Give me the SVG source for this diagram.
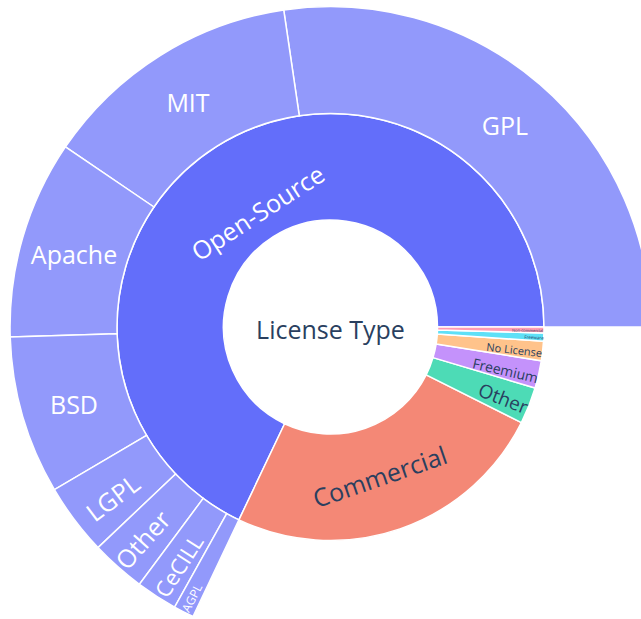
<svg xmlns="http://www.w3.org/2000/svg" width="641" height="619" viewBox="0 0 641 619">
<style>
.s{stroke:#ffffff;stroke-width:1.5;}
.inner{fill:#636efa;}
.leafos{fill:#9299fb;}
.t{font-family:"Open Sans","DejaVu Sans",sans-serif;text-anchor:middle;}
.w{fill:#ffffff;}
.d{fill:#2a3f5f;}
</style>
<rect x="0" y="0" width="641" height="619" fill="#ffffff"/>
<g id="connectors"></g>
<g id="root">
<circle cx="330.5" cy="327" r="107" fill="#ffffff" class="s"/>
<text class="t d" x="330.5" y="338.5" font-size="25">License Type</text>
</g>
<g id="open-source">
<path class="s inner" d="M437.5 327 L544 327 A213.5 213.5 0 1 0 238.9 519.9 L284.6 423.7 A107 107 0 1 1 437.5 327 Z"/>
<text class="t w" font-size="25" transform="translate(258 213) rotate(-33)" y="9">Open-Source</text>
</g>
<g id="commercial">
<path class="s" fill="#f48876" d="M284.6 423.7 L238.9 519.9 A213.5 213.5 0 0 0 521.4 422.6 L426.2 374.9 A107 107 0 0 1 284.6 423.7 Z"/>
<text class="t d" font-size="25" transform="translate(380 477) rotate(-19)" y="9">Commercial</text>
</g>
<g id="other-license">
<path class="s" fill="#4ddbb6" d="M426.2 374.9 L521.4 422.6 A213.5 213.5 0 0 0 535.1 388 L433 357.6 A107 107 0 0 1 426.2 374.9 Z"/>
<text class="t d" font-size="19" transform="translate(503.3 398.3) rotate(21.6)" y="7">Other</text>
</g>
<g id="freemium">
<path class="s" fill="#c492fb" d="M433 357.6 L535.1 388 A213.5 213.5 0 0 0 541.3 360.8 L436.2 343.9 A107 107 0 0 1 433 357.6 Z"/>
<text class="t d" font-size="14" transform="translate(505.3 370.7) rotate(13)" y="5">Freemium</text>
</g>
<g id="no-license">
<path class="s" fill="#ffc38b" d="M436.2 343.9 L541.3 360.8 A213.5 213.5 0 0 0 543.5 341.2 L437.3 334.1 A107 107 0 0 1 436.2 343.9 Z"/>
<text class="t d" font-size="11" transform="translate(514.3 350) rotate(6.5)" y="4">No License</text>
</g>
<g id="freeware">
<path class="s" fill="#5ee0f7" d="M437.3 334.1 L543.5 341.2 A213.5 213.5 0 0 0 543.9 333 L437.5 330 A107 107 0 0 1 437.3 334.1 Z"/>
<text class="t d" font-size="4.5" transform="translate(534 337.5) rotate(2.7)" y="1.6">Freeware</text>
</g>
<g id="non-commercial">
<path class="s" fill="#ff9cb3" d="M437.5 330 L543.9 333 A213.5 213.5 0 0 0 544 327 L437.5 327 A107 107 0 0 1 437.5 330 Z"/>
<text class="t d" font-size="4" transform="translate(527.5 330.5) rotate(0.8)" y="1.4">Non-commercial</text>
</g>
<g id="gpl">
<path class="s leafos" d="M544 327 L651 327 A320.5 320.5 0 0 0 283.7 9.9 L299.3 115.8 A213.5 213.5 0 0 1 544 327 Z"/>
<text class="t w" x="505" y="135" font-size="25">GPL</text>
</g>
<g id="mit">
<path class="s leafos" d="M299.3 115.8 L283.7 9.9 A320.5 320.5 0 0 0 65.4 146.9 L153.9 207 A213.5 213.5 0 0 1 299.3 115.8 Z"/>
<text class="t w" x="188" y="111.5" font-size="25">MIT</text>
</g>
<g id="apache">
<path class="s leafos" d="M153.9 207 L65.4 146.9 A320.5 320.5 0 0 0 10.2 337.1 L117.1 333.7 A213.5 213.5 0 0 1 153.9 207 Z"/>
<text class="t w" x="74" y="264" font-size="25">Apache</text>
</g>
<g id="bsd">
<path class="s leafos" d="M117.1 333.7 L10.2 337.1 A320.5 320.5 0 0 0 54.4 489.7 L146.6 435.4 A213.5 213.5 0 0 1 117.1 333.7 Z"/>
<text class="t w" x="74" y="414" font-size="25">BSD</text>
</g>
<g id="lgpl">
<path class="s leafos" d="M146.6 435.4 L54.4 489.7 A320.5 320.5 0 0 0 98 547.6 L175.6 474 A213.5 213.5 0 0 1 146.6 435.4 Z"/>
<text class="t w" font-size="25" transform="translate(113 498) rotate(-37)" y="9">LGPL</text>
</g>
<g id="other-oss">
<path class="s leafos" d="M175.6 474 L98 547.6 A320.5 320.5 0 0 0 139.4 584.3 L203.2 498.4 A213.5 213.5 0 0 1 175.6 474 Z"/>
<text class="t w" font-size="25" transform="translate(143 540) rotate(-48.5)" y="9">Other</text>
</g>
<g id="cecill">
<path class="s leafos" d="M203.2 498.4 L139.4 584.3 A320.5 320.5 0 0 0 174.6 607.1 L226.7 513.6 A213.5 213.5 0 0 1 203.2 498.4 Z"/>
<text class="t w" font-size="22" transform="translate(179 566) rotate(-57.2)" y="8">CeCILL</text>
</g>
<g id="agpl">
<path class="s leafos" d="M226.7 513.6 L174.6 607.1 A320.5 320.5 0 0 0 193 616.5 L238.9 519.9 A213.5 213.5 0 0 1 226.7 513.6 Z"/>
<text class="t w" font-size="12" transform="translate(192 598) rotate(-62.75)" y="4.3">AGPL</text>
</g>
</svg>
